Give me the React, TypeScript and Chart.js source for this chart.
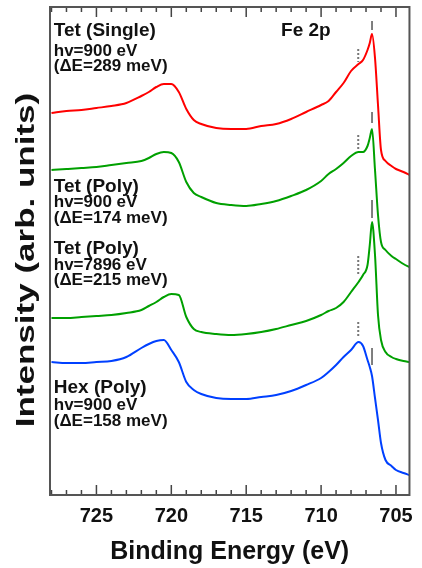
import React, { useEffect, useRef } from "react";
import { Chart, registerables } from "chart.js";

Chart.register(...registerables);

// Binding energy grid (eV)
const energies = [
  728, 727, 726, 725, 724, 723, 722, 721.5, 721, 720.5, 720, 719.5, 719, 718.5, 718,
  717, 716, 715, 714, 713, 712, 711, 710, 709.5, 709, 708.5, 708, 707.5, 707.2, 706.9,
  706.75, 706.6, 706.4, 706.2, 706.0, 705.7, 705.3, 705.0, 704.5, 704.1,
];

// Intensities (arb. units, offset stacked)
const tetSingle = [
  382, 384, 385, 387, 389, 392, 399, 403, 408, 411, 411, 403, 386, 375, 371,
  367, 366, 366, 369, 371, 376, 383, 390, 394, 403, 412, 424, 431, 435, 445,
  452, 461, 437, 390, 345, 334, 329, 326, 323, 320,
];
const tetPoly900 = [
  325, 326, 327, 328, 330, 332, 334, 337, 341, 343, 342, 333, 313, 302, 298,
  292, 290, 289, 291, 294, 299, 305, 314, 321, 326, 332, 339, 343, 343, 349,
  357, 366, 325, 280, 253, 245, 239, 236, 231, 228,
];
const tetPoly7896 = [
  177, 177, 178, 179, 180, 182, 185, 189, 193, 198, 201, 200, 178, 166, 163,
  161, 160, 161, 163, 166, 170, 174, 180, 184, 187, 193, 203, 213, 220, 230,
  250, 273, 240, 180, 155, 143, 138, 136, 134, 133,
];
const hexPoly = [
  133, 132, 132, 133, 134, 138, 147, 151, 154, 155, 145, 133, 113, 105, 101,
  97, 96, 96, 98, 100, 104, 110, 117, 123, 130, 138, 145, 153, 149, 135,
  128, 119, 97, 75, 52, 35, 29, 25, 22, 20,
];

const seriesNames = ["Tet (Single)", "Tet (Poly) 900", "Tet (Poly) 7896", "Hex (Poly)"];
const seriesColors = ["#ff0000", "#00a000", "#0040ff"];

// Peak markers: main line (solid) and shoulder (dotted)
const mainPeakE = 706.6;
const shoulderE = 707.52;
const mainMarkers = [[474, 465], [383, 372], [295, 277], [147, 130]];
const shoulderMarkers = [[446, 433], [360, 345], [239, 220], [173, 158]];

// X axis
const xMin = 704.1;
const xMax = 728.1;
const majorTicks = [725, 720, 715, 710, 705];
const minorTicks = [705, 706, 707, 708, 709, 710, 711, 712, 713, 714, 715, 716, 717, 718, 719, 720, 721, 722, 723, 724, 725, 726, 727, 728];

// Text annotations
const labelX = 727.85;
const labelTexts = [
  "Tet (Single)", "hv=900 eV", "(\u0394E=289 meV)",
  "Tet (Poly)", "hv=900 eV", "(\u0394E=174 meV)",
  "Tet (Poly)", "hv=7896 eV", "(\u0394E=215 meV)",
  "Hex (Poly)", "hv=900 eV", "(\u0394E=158 meV)",
];
const labelY = [464, 444, 429, 308.5, 293, 276.5, 246.5, 230, 215, 107.5, 90, 74];
const labelIsHead = [true, false, false, true, false, false, true, false, false, true, false, false];
const edgeLabel = { text: "Fe 2p", x: 712.67, y: 464 };
const yTitle = "Intensity (arb. units)";

const FONT = "'Liberation Sans', Arial, Helvetica, sans-serif";

export default function App() {
  const ref = useRef<HTMLCanvasElement | null>(null);

  useEffect(() => {
    const canvas = ref.current;
    if (!canvas) return;

    const seriesData = [tetSingle, tetPoly900, tetPoly7896, hexPoly];
    const colorFor = [seriesColors[0], seriesColors[1], seriesColors[1], seriesColors[2]];

    const datasets: any[] = seriesData.map((arr, i) => ({
      label: seriesNames[i],
      data: energies.map((e, j) => ({ x: e, y: arr[j] })),
      borderColor: colorFor[i],
      borderWidth: 2,
      pointRadius: 0,
      cubicInterpolationMode: "monotone",
      fill: false,
    }));

    mainMarkers.forEach((m) => {
      datasets.push({
        data: [{ x: mainPeakE, y: m[0] }, { x: mainPeakE, y: m[1] }],
        borderColor: "#555555",
        borderWidth: 1.5,
        pointRadius: 0,
        fill: false,
      });
    });
    shoulderMarkers.forEach((m) => {
      datasets.push({
        data: [{ x: shoulderE, y: m[0] }, { x: shoulderE, y: m[1] }],
        borderColor: "#777777",
        borderWidth: 2,
        borderDash: [2, 2],
        pointRadius: 0,
        fill: false,
      });
    });

    const framePlugin = {
      id: "frame",
      afterDatasetsDraw(chart: any) {
        const { ctx, chartArea } = chart;
        const xs = chart.scales.x;
        const { left, right, top, bottom } = chartArea;
        ctx.save();
        ctx.strokeStyle = "#444444";
        ctx.lineWidth = 1.5;
        ctx.beginPath();
        minorTicks.forEach((v) => {
          const px = xs.getPixelForValue(v);
          const len = majorTicks.includes(v) ? 10 : 5;
          ctx.moveTo(px, bottom);
          ctx.lineTo(px, bottom - len);
          ctx.moveTo(px, top);
          ctx.lineTo(px, top + len);
        });
        ctx.stroke();
        ctx.lineWidth = 2;
        ctx.strokeStyle = "#555555";
        ctx.strokeRect(left, top, right - left, bottom - top);
        ctx.restore();

        // text annotations
        const ys = chart.scales.y;
        ctx.save();
        ctx.fillStyle = "#111111";
        ctx.textAlign = "left";
        ctx.textBaseline = "middle";
        labelTexts.forEach((t, i) => {
          ctx.font = labelIsHead[i] ? `bold 19px ${FONT}` : `bold 17px ${FONT}`;
          ctx.fillText(t, xs.getPixelForValue(labelX), ys.getPixelForValue(labelY[i]));
        });
        ctx.font = `bold 19px ${FONT}`;
        ctx.fillText(edgeLabel.text, xs.getPixelForValue(edgeLabel.x), ys.getPixelForValue(edgeLabel.y));
        ctx.restore();

        // y axis title (stretched along its length like the reference)
        const yCenter = (top + bottom) / 2 + 9;
        ctx.save();
        ctx.translate(27, yCenter);
        ctx.rotate(-Math.PI / 2);
        ctx.scale(1.4, 1);
        ctx.fillStyle = "#111111";
        ctx.font = `bold 25px ${FONT}`;
        ctx.textAlign = "center";
        ctx.textBaseline = "middle";
        ctx.fillText(yTitle, 0, 0);
        ctx.restore();
      },
    };

    const chart = new Chart(canvas, {
      type: "line",
      data: { datasets },
      options: {
        animation: false,
        responsive: false,
        devicePixelRatio: 1,
        layout: { padding: { top: 7, right: 9, left: 0, bottom: 0 } },
        plugins: { legend: { display: false }, tooltip: { enabled: false } },
        scales: {
          x: {
            type: "linear",
            reverse: true,
            min: xMin,
            max: xMax,
            afterBuildTicks: (s: any) => {
              s.ticks = majorTicks.map((v) => ({ value: v }));
            },
            afterFit: (s: any) => {
              s.height = 73;
            },
            grid: { display: false, drawTicks: false },
            border: { display: false },
            ticks: {
              color: "#111111",
              padding: 9,
              maxRotation: 0,
              font: { family: FONT, size: 20, weight: "bold" },
              callback: (v: any) => String(v),
            },
            title: {
              display: true,
              text: "Binding Energy (eV)",
              color: "#111111",
              padding: { top: 0, bottom: 1 },
              font: { family: FONT, size: 25, weight: "bold" },
            },
          },
          y: {
            type: "linear",
            min: 0,
            max: 488,
            afterFit: (s: any) => {
              s.width = 50;
            },
            grid: { display: false, drawTicks: false },
            border: { display: false },
            ticks: { display: false },
            title: { display: false },
          },
        },
      },
      plugins: [framePlugin],
    });

    return () => chart.destroy();
  }, []);

  return (
    <div style={{ position: "fixed", left: 0, top: 0, width: 422, height: 568, background: "#ffffff" }}>
      <canvas ref={ref} width={422} height={568} />
    </div>
  );
}
